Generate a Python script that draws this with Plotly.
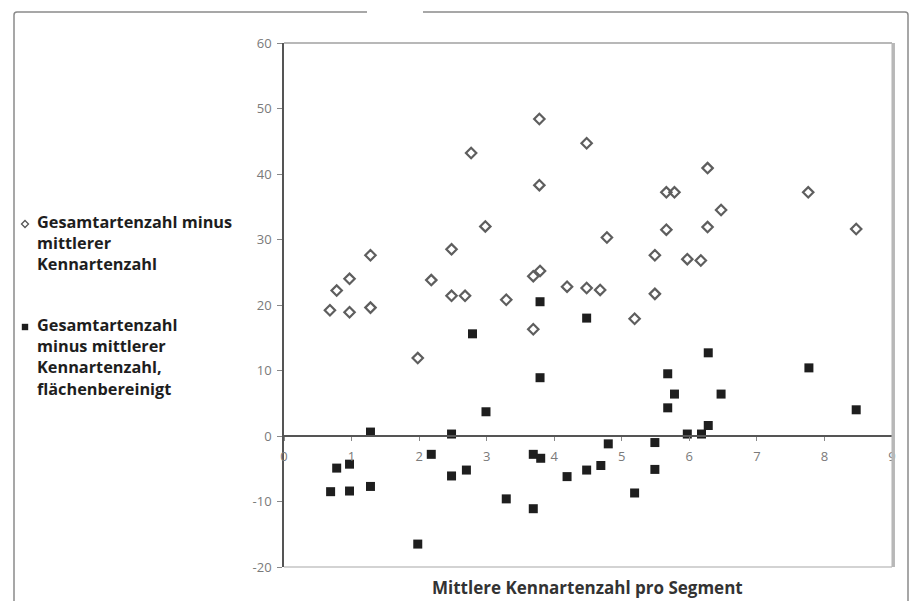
import plotly.graph_objects as go

# ---- data ----
x_total = [0.68, 0.78, 0.97, 0.97, 1.28, 1.28, 1.98, 2.18, 2.48, 2.48, 2.68, 2.77,
           2.98, 3.29, 3.69, 3.69, 3.79, 3.78, 3.78, 4.19, 4.48, 4.48, 4.68, 4.78,
           5.19, 5.49, 5.49, 5.66, 5.78, 5.66, 5.97, 6.17, 6.27, 6.27, 6.47, 7.76, 8.47]
y_total = [19.2, 22.2, 24.0, 18.9, 27.6, 19.6, 11.9, 23.8, 28.5, 21.4, 21.4, 43.2,
           32.0, 20.8, 16.3, 24.4, 25.2, 48.4, 38.3, 22.8, 44.7, 22.6, 22.3, 30.3,
           17.9, 27.6, 21.7, 37.2, 37.2, 31.5, 27.0, 26.8, 40.9, 31.9, 34.5, 37.2, 31.6]

x_adj = [0.69, 0.78, 0.97, 0.97, 1.28, 1.28, 1.98, 2.18, 2.48, 2.48, 2.70, 2.79,
         2.99, 3.29, 3.69, 3.80, 3.69, 3.79, 3.79, 4.19, 4.48, 4.48, 4.69, 4.80,
         5.19, 5.49, 5.49, 5.68, 5.78, 5.68, 5.97, 6.18, 6.28, 6.28, 6.47, 7.77, 8.47]
y_adj = [-8.5, -4.9, -4.3, -8.4, 0.6, -7.7, -16.5, -2.8, 0.3, -6.1, -5.2, 15.6,
         3.7, -9.6, -2.8, -3.4, -11.1, 20.5, 8.9, -6.2, 18.0, -5.2, -4.5, -1.2,
         -8.7, -1.0, -5.1, 9.5, 6.4, 4.3, 0.3, 0.3, 12.7, 1.6, 6.4, 10.4, 4.0]

name_total = "Gesamtartenzahl minus<br>mittlerer<br>Kennartenzahl"
name_adj = "Gesamtartenzahl<br>minus mittlerer<br>Kennartenzahl,<br>flächenbereinigt"
x_title = "Mittlere Kennartenzahl pro Segment"
x_ticks = [0, 1, 2, 3, 4, 5, 6, 7, 8, 9]
y_ticks = [-20, -10, 0, 10, 20, 30, 40, 50, 60]

# ---- layout geometry (pixels) ----
W, H = 913, 601
L, R, T, B = 284, 892, 43, 567


def fx(px):
    return (px - L) / (R - L)


def fy(py):
    return (B - py) / (B - T)


FONT = "Open Sans"

fig = go.Figure()
fig.add_trace(go.Scatter(
    x=x_total, y=y_total, mode="markers", name=name_total, showlegend=False,
    marker=dict(symbol="diamond-open", size=8, color="#5e5e5e",
                line=dict(width=2.2, color="#5e5e5e")),
))
fig.add_trace(go.Scatter(
    x=x_adj, y=y_adj, mode="markers", name=name_adj, showlegend=False,
    marker=dict(symbol="square", size=9, color="#1e1e1e",
                line=dict(width=0)),
))

shapes = []
# plot frame: top, bottom (thin grey) and right (thick light grey)
shapes.append(dict(type="line", xref="paper", yref="paper", x0=0, x1=1, y0=1, y1=1,
                   line=dict(color="#a0a0a0", width=1.5)))
shapes.append(dict(type="line", xref="paper", yref="paper", x0=0, x1=1, y0=0, y1=0,
                   line=dict(color="#a8a8a8", width=1.2)))
shapes.append(dict(type="line", xref="paper", yref="paper", x0=1.002, x1=1.002, y0=0, y1=1,
                   line=dict(color="#b8b8b8", width=3.5)))

# outer rounded frame with a gap at top
r = 3
p_left = (f"M {fx(367)} {fy(12)} L {fx(14 + r)} {fy(12)} "
          f"Q {fx(14)} {fy(12)} {fx(14)} {fy(12 + r)} L {fx(14)} {fy(610)}")
p_right = (f"M {fx(423)} {fy(12)} L {fx(908 - r)} {fy(12)} "
           f"Q {fx(908)} {fy(12)} {fx(908)} {fy(12 + r)} L {fx(908)} {fy(610)}")
for p in (p_left, p_right):
    shapes.append(dict(type="path", xref="paper", yref="paper", path=p,
                       line=dict(color="#8a8a8a", width=1.5)))

# legend symbols
cx, cy1, cy2, hs = 25, 224, 327, 3.5
shapes.append(dict(type="path", xref="paper", yref="paper",
                   path=(f"M {fx(cx)} {fy(cy1 - hs)} L {fx(cx + hs)} {fy(cy1)} "
                         f"L {fx(cx)} {fy(cy1 + hs)} L {fx(cx - hs)} {fy(cy1)} Z"),
                   line=dict(color="#555555", width=1.3), fillcolor="white"))
shapes.append(dict(type="rect", xref="paper", yref="paper",
                   x0=fx(cx - 3.2), x1=fx(cx + 3.2), y0=fy(cy2 + 3.2), y1=fy(cy2 - 3.2),
                   line=dict(width=0), fillcolor="#1e1e1e"))

annotations = [
    dict(text=name_total, xref="paper", yref="paper", x=fx(35), y=fy(243),
         xanchor="left", yanchor="middle", align="left", showarrow=False,
         font=dict(family=FONT, size=16.3, color="#1e1e1e", weight=700)),
    dict(text=name_adj, xref="paper", yref="paper", x=fx(35), y=fy(357),
         xanchor="left", yanchor="middle", align="left", showarrow=False,
         font=dict(family=FONT, size=16.3, color="#1e1e1e", weight=700)),
    dict(text=x_title, xref="paper", yref="paper", x=fx(587), y=fy(587),
         xanchor="center", yanchor="middle", showarrow=False,
         font=dict(family=FONT, size=17, color="#333333", weight=700)),
]

fig.update_layout(
    width=W, height=H, autosize=False,
    margin=dict(l=L, r=W - R, t=T, b=H - B, pad=0),
    paper_bgcolor="white", plot_bgcolor="white",
    shapes=shapes, annotations=annotations,
    font=dict(family=FONT, color="#777777", size=12),
    xaxis=dict(range=[0, 9], tickvals=x_ticks, ticktext=[str(v) for v in x_ticks],
               anchor="free", position=0.25, showline=True, linecolor="#555555",
               linewidth=1.5, ticks="outside", ticklen=4, tickcolor="#888888",
               showgrid=False, zeroline=False, ticklabelstandoff=5,
               tickfont=dict(family=FONT, size=13, color="#7a7a7a")),
    yaxis=dict(range=[-20, 60], tickvals=y_ticks, ticktext=[str(v) for v in y_ticks],
               showline=True, linecolor="#555555", linewidth=1.5,
               ticks="outside", ticklen=5, tickcolor="#888888",
               showgrid=False, zeroline=False, ticklabelstandoff=3,
               tickfont=dict(family=FONT, size=13, color="#7a7a7a")),
)

fig.write_html("out.html")
